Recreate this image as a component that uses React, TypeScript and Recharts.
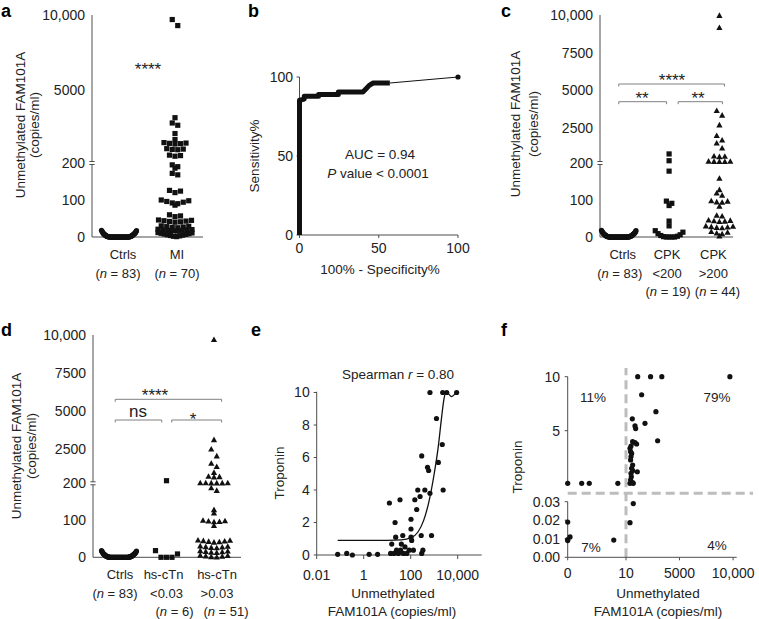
import React from 'react';
import { ScatterChart, Scatter, XAxis, YAxis, ReferenceLine } from 'recharts';

const FONT = '"Liberation Sans", Arial, Helvetica, sans-serif';
const INK = '#111';
const AXIS = '#4d4d4d';
const TXT = '#222';
const BRACKET = '#808080';
const DASH = '#bdbdbd';
const tickStyle = { fontSize: 14, fill: TXT, fontFamily: FONT };

// ---------- a, c, d: unmethylated FAM101A (copies/ml) ----------
// each inner array is one horizontal row of the dot swarm
const ctrls = [
  0, 0, 0, 0, 0, 0, 0, 0, 0, 0, 0, 0, 0, 0, 0, 0, 0, 0, 0, 0, 0, 0, 0, 0,
  0, 0, 0, 0, 0, 0, 0, 0, 0, 0, 0, 0, 0, 0, 0, 0, 0, 0, 0, 0, 0, 0, 0,
  1, 1, 1, 1, 1, 1, 2, 2, 2, 2, 3, 3, 3, 3, 4, 4, 5, 5, 6, 6, 7, 7, 8, 8,
  9, 9, 10, 10, 11, 12, 13, 14, 15, 16, 17, 18,
];

const miRows = [
  [9700, 9300], [3200], [2850, 2700], [2150], [1750],
  [1550, 1520, 1500, 1480, 1460], [1150, 1120, 1100, 1080], [720, 690, 650],
  [195, 190], [186], [172, 168], [126, 124, 120], [100, 98, 96, 94, 92, 90], [86],
  [60, 57, 55], [46, 45, 44, 43, 42, 41, 40], [30, 29, 28, 27, 26, 25],
  [21, 20, 19, 19, 18, 18, 17, 16], [1, 2, 3, 4, 5, 6, 7, 8, 9, 10, 11, 12],
];

const cpkLowRows = [
  [800], [350], [178], [97, 91], [85], [43], [30],
  [0, 0, 0, 0, 1, 2, 4, 6, 9, 13, 17],
];

const cpkHighRows = [
  [9950], [9150], [3650, 3350], [2700], [2000, 1700], [1500, 1170],
  [640, 620, 600], [300, 290, 285, 280, 275], [158], [127], [118, 112],
  [97, 96, 94, 93], [82], [58, 56], [45, 44, 43, 42, 41], [29, 28, 27, 26, 25, 24],
  [14, 12, 10, 8], [2],
];

const tnLowRows = [[372], [0, 0, 0, 9, 18]];

const tnHighRows = [
  [9700], [3070], [2450, 1990], [1500, 1290], [900], [640, 620, 600],
  [215, 212, 210, 208, 205, 202], [187, 180], [128], [119], [99, 98, 97, 96, 95], [85],
  [46, 45, 44, 43, 42, 41, 40], [30, 29, 28, 27, 26, 25], [17, 16, 15, 14, 13, 12],
  [5, 4, 3, 2, 1, 0],
];

const famTicksA = [0, 100, 200, 5000, 10000];
const famTicks = [0, 100, 200, 2500, 5000, 7500, 10000];

const catsA = [['Ctrls', '(n = 83)'], ['MI', '(n = 70)']];
const catsC = [['Ctrls', '(n = 83)'], ['CPK', '<200', '(n = 19)'], ['CPK', '>200', '(n = 44)']];
const catsD = [['Ctrls', '(n = 83)'], ['hs-cTn', '<0.03', '(n = 6)'], ['hs-cTn', '>0.03', '(n = 51)']];

// ---------- b: ROC ----------
const rocFpr = [0, 0, 3, 3, 12, 12, 24.5, 24.5, 40, 42, 44, 46.5, 57];
const rocTpr = [0, 85.3, 86, 87.8, 87.8, 89, 89, 90.5, 90.5, 92.6, 94.7, 96.2, 96.2];
const rocTailFpr = [57, 100];
const rocTailTpr = [96.2, 100];

// ---------- e: troponin vs FAM101A ----------
const eFam = [
  0.078, 0.19, 0.33, 1.7, 3.9, 12.4, 14, 15.6, 19.5, 21.6, 23, 25, 30, 35, 37, 40,
  46, 49, 57, 68, 86, 103, 103, 103, 110, 130, 150, 180, 200, 250, 280, 294, 294,
  330, 400, 520, 580, 660, 770, 660, 1250, 1500, 2200, 2400, 2300, 3400, 9000,
];
const eTrop = [
  0.04, 0.1, 0, 0.04, 0.04, 3.2, 0.1, 0.67, 0.1, 2.0, 1.1, 0.3, 0.1, 3.4, 0.3, 0.67,
  1.2, 0.1, 0.5, 0.1, 0.3, 1.6, 2.2, 1.1, 0.9, 0.3, 3.4, 2.8, 4.0, 3.6, 1.2, 6.1, 0.1,
  0.3, 4.0, 5.4, 5.2, 3.8, 1.2, 10, 8.4, 5.7, 6.8, 4.0, 10, 10, 10,
];
const fitFam = [0.078, 1, 10, 40, 100, 200, 350, 600, 1000, 1500, 2000, 2600, 3200, 5500, 9000];
const fitTrop = [0.9, 0.9, 0.9, 0.93, 1.05, 1.4, 2.1, 3.3, 5.0, 6.7, 8.3, 9.6, 10.05, 9.75, 10.05];
const logTicks = [0.01, 1, 100, 10000];
const tropTicks = [0, 2, 4, 6, 8, 10];

// ---------- f: quadrants ----------
const fFam = [
  1100, 2300, 3350, 9700, 1470, 2800, 600, 850, 910, 1780, 2960,
  630, 847, 1000, 475, 382, 440, 537, 475, 440, 630, 537, 630, 475, 1064, 506, 440, 630, 382, 690,
  0, 2.4, 3.7, 8.6, 0, 0, 0.4, 0, 7.9, 382, 690,
];
const fTrop = [
  10, 10, 10, 10, 8.33, 6.76, 6.1, 5.44, 5.2, 5.68, 4.07,
  3.98, 3.89, 3.77, 3.58, 3.37, 3.06, 2.9, 2.6, 2.29, 1.82, 1.52, 1.3, 1.06, 1.2, 0.74, 0.44, 0.19, 0.13, 0.13,
  0.13, 0.13, 0.13, 0.13, 0.019, 0.0095, 0.011, 0.009, 0.0093, 0.0187, 0.029,
];
const fXTicks = [0, 10, 5000, 10000];
const fYTicks = [0, 0.01, 0.02, 0.03, 5, 10];
const fYLabels = ['0.00', '0.01', '0.02', '0.03', '5', '10'];

// ---------- broken / piecewise axes (units are plot pixels) ----------
const famY = (v: number) => (v <= 200 ? v * 0.37 : 74 + ((v - 200) * 148) / 9800);
const fX = (v: number) => (v <= 10 ? v * 5.83 : 58.3 + ((v - 10) * 107.1) / 9990);
const fY = (v: number) => (v <= 0.03 ? (v * 55.6) / 0.03 : 72.6 + v * 10.8);
const fmt = (v: number) => (v >= 10000 ? v.toLocaleString('en-US') : String(v));

type P = { x: number; y: number };
type Rect = { l: number; t: number; r: number; b: number };

// lay one group out as rows centred on its category, lowest values in the middle
function swarm(rows: number[][], cat: number, gap: number, half: number): P[] {
  const out: P[] = [];
  rows.forEach((row) => {
    const vals = [...row].sort((a, b) => a - b);
    const n = vals.length;
    const s = n > 1 ? Math.min(5.5, (2 * half) / (n - 1)) : 0;
    const slots = vals
      .map((_, i) => (i - (n - 1) / 2) * s)
      .sort((a, b) => Math.abs(a) - Math.abs(b) || b - a);
    vals.forEach((v, i) => out.push({ x: cat + slots[i] / gap, y: famY(v) }));
  });
  return out;
}

function frame(box: Rect, plot: Rect) {
  return {
    style: { position: 'absolute' as const, left: box.l, top: box.t },
    width: box.r - box.l,
    height: box.b - box.t,
    margin: { top: plot.t - box.t, right: box.r - plot.r, bottom: 0, left: 0 },
    yw: plot.l - box.l,
    xh: box.b - plot.b,
  };
}

const mark = (kind: string) => (p: any) => {
  const { cx, cy } = p;
  if (kind === 'square') return <rect x={cx - 2.6} y={cy - 2.6} width={5.2} height={5.2} fill={INK} />;
  if (kind === 'triangle')
    return <path d={`M${cx},${cy - 3.4}L${cx + 3.1},${cy + 2.2}L${cx - 3.1},${cy + 2.2}Z`} fill={INK} />;
  return <circle cx={cx} cy={cy} r={2.6} fill={INK} />;
};
const noMark = () => <g />;

const withN = (s: string) =>
  s.startsWith('(n') ? (
    <>
      (<tspan fontStyle="italic">n</tspan>
      {s.slice(2)}
    </>
  ) : (
    s
  );

const catTick = (cats: string[][], nudge: number[][]) => (p: any) => {
  const i = Math.round(p.payload.value);
  const lines = cats[i] || [];
  return (
    <g>
      {lines.map((t, k) => (
        <text key={k} x={p.x + nudge[i][k]} y={p.y + 22 + k * 18.5} textAnchor="middle"
          fontSize={13} fontFamily={FONT} fill={TXT}>
          {withN(t)}
        </text>
      ))}
    </g>
  );
};

const seg = (x1: number, y1: number, x2: number, y2: number, stroke: string, key: string, extra: any = {}) => (
  <ReferenceLine key={key} segment={[{ x: x1, y: y1 }, { x: x2, y: y2 }]} stroke={stroke}
    strokeWidth={1} ifOverflow="visible" {...extra} />
);

interface DotPanelProps {
  box: Rect;
  plot: Rect;
  cat0: number;
  gap: number;
  groups: { rows: number[][]; kind: string; half: number }[];
  cats: string[][];
  nudge: number[][];
  yTicks: number[];
  brackets?: number[][];
}

function DotPanel({ box, plot, cat0, gap, groups, cats, nudge, yTicks, brackets = [] }: DotPanelProps) {
  const f = frame(box, plot);
  const lo = (plot.l - cat0) / gap;
  const hi = (plot.r - cat0) / gap;
  const top = plot.b - plot.t;
  const cap = 2.6 / gap;
  const yt = yTicks.map(famY);
  return (
    <div style={f.style}>
      <ScatterChart width={f.width} height={f.height} margin={f.margin}>
        <XAxis type="number" dataKey="x" domain={[lo, hi]} ticks={cats.map((_, i) => i)}
          interval={0} tickLine={false} tickSize={0} tickMargin={0} axisLine={{ stroke: AXIS }}
          height={f.xh} tick={catTick(cats, nudge)} />
        <YAxis type="number" dataKey="y" domain={[0, top]} ticks={yt} interval={0}
          tickFormatter={(t: number) => fmt(yTicks[yt.indexOf(t)])} axisLine={false} tickLine={false}
          tickSize={0} tickMargin={7} width={f.yw} tick={tickStyle} />
        {seg(lo, 0, lo, 72.5, AXIS, 'ax1')}
        {seg(lo, 75.5, lo, top, AXIS, 'ax2')}
        {seg(lo - cap, 72.5, lo + cap, 72.5, AXIS, 'cap1')}
        {seg(lo - cap, 75.5, lo + cap, 75.5, AXIS, 'cap2')}
        {brackets.flatMap(([a, b, y], i) => [
          seg(a, y, b, y, BRACKET, `bh${i}`),
          seg(a, y, a, y - 2.5, BRACKET, `bl${i}`),
          seg(b, y, b, y - 2.5, BRACKET, `br${i}`),
        ])}
        {groups.map((g, i) => (
          <Scatter key={i} data={swarm(g.rows, i, gap, g.half)} shape={mark(g.kind)} isAnimationActive={false} />
        ))}
      </ScatterChart>
    </div>
  );
}

function RocPanel() {
  const f = frame({ l: 250, t: 60, r: 500, b: 300 }, { l: 299.5, t: 77, r: 458, b: 235 });
  const roc = rocFpr.map((x, i) => ({ x, y: rocTpr[i] }));
  const tail = rocTailFpr.map((x, i) => ({ x, y: rocTailTpr[i] }));
  return (
    <div style={f.style}>
      <ScatterChart width={f.width} height={f.height} margin={f.margin}>
        <XAxis type="number" dataKey="x" domain={[0, 100]} ticks={[0, 50, 100]} interval={0}
          tickSize={3} tickMargin={5} axisLine={{ stroke: AXIS }} tickLine={{ stroke: AXIS }}
          height={f.xh} tick={tickStyle} />
        <YAxis type="number" dataKey="y" domain={[0, 100]} ticks={[0, 50, 100]} interval={0}
          tickSize={3} tickMargin={3.5} axisLine={{ stroke: AXIS }} tickLine={{ stroke: AXIS }}
          width={f.yw} tick={tickStyle} />
        <Scatter data={roc} shape={noMark} line={{ stroke: INK, strokeWidth: 5, strokeLinejoin: 'round' }}
          isAnimationActive={false} />
        <Scatter data={tail} shape={noMark} line={{ stroke: INK, strokeWidth: 1 }} isAnimationActive={false} />
        <Scatter data={tail.slice(1)} shape={mark('circle')} isAnimationActive={false} />
      </ScatterChart>
    </div>
  );
}

function CorrPanel() {
  const f = frame({ l: 250, t: 360, r: 500, b: 619 }, { l: 316.7, t: 391.7, r: 481.7, b: 555 });
  const pts = eFam.map((x, i) => ({ x, y: eTrop[i] }));
  const fit = fitFam.map((x, i) => ({ x, y: fitTrop[i] }));
  return (
    <div style={f.style}>
      <ScatterChart width={f.width} height={f.height} margin={f.margin}>
        <XAxis type="number" dataKey="x" scale="log" domain={[0.01, 105000]} ticks={logTicks}
          interval={0} tickFormatter={fmt} tickSize={4} tickMargin={11} axisLine={{ stroke: AXIS }}
          tickLine={{ stroke: AXIS }} height={f.xh} tick={tickStyle} />
        <YAxis type="number" dataKey="y" domain={[0, 10]} ticks={tropTicks} interval={0} tickSize={3}
          tickMargin={4} axisLine={{ stroke: AXIS }} tickLine={{ stroke: AXIS }} width={f.yw} tick={tickStyle} />
        <Scatter data={pts} shape={mark('circle')} isAnimationActive={false} />
        <Scatter data={fit} shape={noMark} line={{ stroke: INK, strokeWidth: 1.3 }} lineJointType="monotoneX"
          isAnimationActive={false} />
      </ScatterChart>
    </div>
  );
}

function QuadPanel() {
  // plot top sits at the top of the dashed divider so the dots at 10 are not clipped
  const f = frame({ l: 500, t: 360, r: 759, b: 619 }, { l: 567.7, t: 368, r: 736.7, b: 557.3 });
  const pts = fFam.map((v, i) => ({ x: fX(v), y: fY(fTrop[i]) }));
  const xt = fXTicks.map(fX);
  const yt = fYTicks.map(fY);
  const dash = { strokeWidth: 3, strokeDasharray: '9 5' };
  return (
    <div style={f.style}>
      <ScatterChart width={f.width} height={f.height} margin={f.margin}>
        <XAxis type="number" dataKey="x" domain={[0, 169]} ticks={xt} interval={0}
          tickFormatter={(t: number) => fmt(fXTicks[xt.indexOf(t)])} tickSize={3} tickMargin={8}
          axisLine={{ stroke: AXIS }} tickLine={{ stroke: AXIS }} height={f.xh} tick={tickStyle} />
        <YAxis type="number" dataKey="y" domain={[0, 189.3]} ticks={yt} interval={0}
          tickFormatter={(t: number) => fYLabels[yt.indexOf(t)]} tickSize={3} tickMargin={4.7}
          axisLine={false} tickLine={{ stroke: AXIS }} width={f.yw} tick={tickStyle} />
        {seg(0, 0, 0, fY(0.03), AXIS, 'ylo')}
        {seg(0, 75.3, 0, fY(10), AXIS, 'yhi')}
        {seg(fX(10), 0, fX(10), 189.3, DASH, 'dv', dash)}
        {seg(0, 64, 185.3, 64, DASH, 'dh', dash)}
        <Scatter data={pts} shape={mark('circle')} isAnimationActive={false} />
      </ScatterChart>
    </div>
  );
}

const VTitle = ({ x, y, children }: { x: number; y: number; children: React.ReactNode }) => (
  <text transform={`translate(${x},${y}) rotate(-90)`} textAnchor="middle" dominantBaseline="central"
    fontSize={13.5}>
    {children}
  </text>
);

function Notes() {
  return (
    <svg width={759} height={619} style={{ position: 'absolute', left: 0, top: 0, pointerEvents: 'none' }}
      fontFamily={FONT} fill={TXT}>
      <g fontSize={18} fontWeight="bold" fill="#000">
        <text x={1} y={17}>a</text>
        <text x={248} y={17}>b</text>
        <text x={501} y={17}>c</text>
        <text x={1} y={336}>d</text>
        <text x={251} y={336}>e</text>
        <text x={501} y={336}>f</text>
      </g>
      <VTitle x={20} y={125}>Unmethylated FAM101A</VTitle>
      <VTitle x={34} y={125}>(copies/ml)</VTitle>
      <VTitle x={515} y={124}>Unmethylated FAM101A</VTitle>
      <VTitle x={533} y={124}>(copies/ml)</VTitle>
      <VTitle x={16} y={446}>Unmethylated FAM101A</VTitle>
      <VTitle x={31} y={446}>(copies/ml)</VTitle>
      <VTitle x={254} y={156}>Sensitivity%</VTitle>
      <VTitle x={279} y={473}>Troponin</VTitle>
      <VTitle x={517} y={467}>Troponin</VTitle>
      <g fontSize={17} textAnchor="middle">
        <text x={148} y={75}>****</text>
        <text x={672} y={85.5}>****</text>
        <text x={642} y={104}>**</text>
        <text x={698} y={104}>**</text>
        <text x={155} y={401}>****</text>
        <text x={193} y={424.5}>*</text>
        <text x={138} y={417}>ns</text>
      </g>
      <g fontSize={13.5} textAnchor="middle">
        <text x={380} y={274}>100% - Specificity%</text>
        <text x={380} y={159}>AUC = 0.94</text>
        <text x={378} y={178}>
          <tspan fontStyle="italic">P</tspan> value {'<'} 0.0001
        </text>
        <text x={398} y={379}>
          Spearman <tspan fontStyle="italic">r</tspan> = 0.80
        </text>
        <text x={393} y={598}>Unmethylated</text>
        <text x={392} y={616}>FAM101A (copies/ml)</text>
        <text x={658} y={598}>Unmethylated</text>
        <text x={658} y={616}>FAM101A (copies/ml)</text>
        <text x={593} y={402}>11%</text>
        <text x={717} y={402}>79%</text>
        <text x={591} y={551.5}>7%</text>
        <text x={717} y={550}>4%</text>
      </g>
    </svg>
  );
}

export default function App() {
  return (
    <div style={{ position: 'absolute', left: 0, top: 0, width: 759, height: 619, background: '#fff', fontFamily: FONT }}>
      <DotPanel
        box={{ l: 0, t: 0, r: 215, b: 300 }}
        plot={{ l: 92, t: 15, r: 203, b: 237 }}
        cat0={119}
        gap={56}
        groups={[
          { rows: [ctrls], kind: 'circle', half: 17.5 },
          { rows: miRows, kind: 'square', half: 17 },
        ]}
        cats={catsA}
        nudge={[[4, -1], [2, 2]]}
        yTicks={famTicksA}
      />
      <RocPanel />
      <DotPanel
        box={{ l: 500, t: 0, r: 759, b: 300 }}
        plot={{ l: 600, t: 15, r: 733, b: 237 }}
        cat0={619}
        gap={51}
        groups={[
          { rows: [ctrls], kind: 'circle', half: 17.5 },
          { rows: cpkLowRows, kind: 'square', half: 14 },
          { rows: cpkHighRows, kind: 'triangle', half: 16 },
        ]}
        cats={catsC}
        nudge={[[4, 1], [-2, -2, -1], [-6, -6, -2]]}
        yTicks={famTicks}
        brackets={[[0, 2.1, 153], [0, 0.95, 135.3], [1.18, 2.06, 135.3]]}
      />
      <DotPanel
        box={{ l: 0, t: 320, r: 259, b: 619 }}
        plot={{ l: 93, t: 335, r: 241, b: 557.3 }}
        cat0={119}
        gap={47.5}
        groups={[
          { rows: [ctrls], kind: 'circle', half: 17.5 },
          { rows: tnLowRows, kind: 'square', half: 14 },
          { rows: tnHighRows, kind: 'triangle', half: 16 },
        ]}
        cats={catsD}
        nudge={[[1, -4], [-3, 0, 8], [3, 3, 12]]}
        yTicks={famTicks}
        brackets={[[-0.08, 2.16, 158], [-0.08, 0.9, 137.3], [1.11, 2.16, 137.3]]}
      />
      <CorrPanel />
      <QuadPanel />
      <Notes />
    </div>
  );
}
